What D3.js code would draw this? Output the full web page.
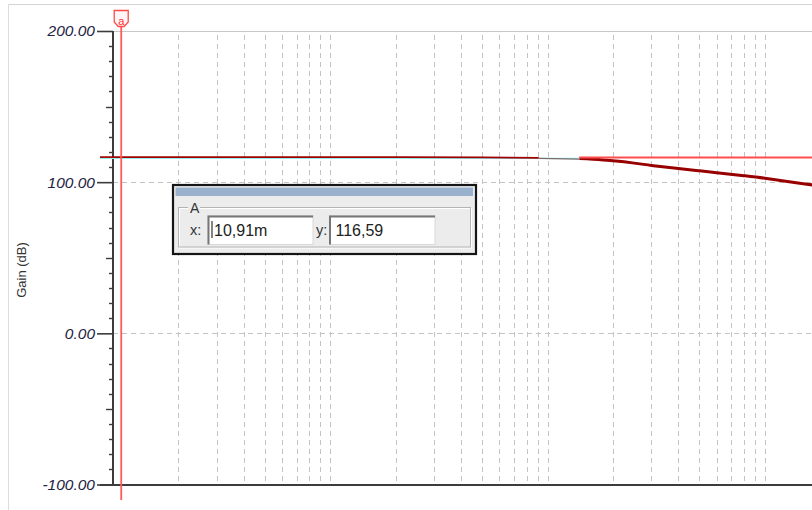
<!DOCTYPE html>
<html>
<head>
<meta charset="utf-8">
<script src="https://cdn.jsdelivr.net/npm/d3@7/dist/d3.min.js"></script>
<style>
  html, body { margin: 0; padding: 0; background: #ffffff; overflow: hidden; }
  svg { display: block; }
  text { font-family: "Liberation Sans", Arial, sans-serif; }
</style>
</head>
<body>
<svg id="chart" width="812" height="510"></svg>
<script>
// Frequency response (gain) of the measured system
const freqHz = [0.01, 0.02, 0.05, 0.1, 0.2, 0.5, 0.91, 1.4, 1.8, 2, 2.5, 3, 4, 5, 6, 8, 10, 12, 15, 20, 30, 50, 100];
const gainDb = [116.59, 116.59, 116.59, 116.58, 116.55, 116.4, 116.1, 115.6, 114.7, 114.1, 112.6, 111.1, 109.0, 107.5, 106.3, 104.3, 102.6, 101.0, 99.0, 96.6, 93.2, 88.8, 82.8];

// Trace colouring breaks (Hz)
const traceBreaks = [0.91, 1.4];

// Y axis ticks
const yMajorTicks = [-100, 0, 100, 200];
const yGridLines = [0, 100];

// Cursor "a" readout
const cursorLabel = "a";
const cursorGroup = "A";
const cursorX = 0.01091;
const cursorY = 116.59;
const cursorXText = "10,91m";
const cursorYText = "116,59";

const svg = d3.select("#chart");
const W = 812, H = 510;

const plotLeft = 113, plotTop = 31, plotBottom = 484.5, decadePx = 217.3;

const x = d3.scaleLog().domain([0.01, 100]).range([plotLeft, plotLeft + 4 * decadePx]);
const y = d3.scaleLinear().domain([-100, 200]).range([plotBottom, plotTop]);

// Panel frame
svg.append("line").attr("x1", 8).attr("x2", W).attr("y1", 4.5).attr("y2", 4.5)
  .attr("stroke", "#d4d4d4").attr("stroke-width", 1);
svg.append("line").attr("x1", 8.5).attr("x2", 8.5).attr("y1", 4).attr("y2", H)
  .attr("stroke", "#dcdcdc").attr("stroke-width", 1);

const plot = svg.append("g");

// Vertical log gridlines (2..10 per decade)
const gridFreqs = x.ticks().filter(f => f > 0.0100001);
plot.append("g").selectAll("line").data(gridFreqs).join("line")
  .attr("x1", d => Math.round(x(d)) + 0.5).attr("x2", d => Math.round(x(d)) + 0.5)
  .attr("y1", plotTop + 4).attr("y2", plotBottom)
  .attr("stroke", "#c4c4c4").attr("stroke-width", 1).attr("stroke-dasharray", "5,4");

// Horizontal gridlines
plot.append("g").selectAll("line").data(yGridLines).join("line")
  .attr("x1", plotLeft).attr("x2", W)
  .attr("y1", d => Math.round(y(d)) + 0.5).attr("y2", d => Math.round(y(d)) + 0.5)
  .attr("stroke", "#c4c4c4").attr("stroke-width", 1).attr("stroke-dasharray", "5,4");

// Top border of plot
plot.append("line").attr("x1", plotLeft).attr("x2", W)
  .attr("y1", Math.round(y(200)) + 0.5).attr("y2", Math.round(y(200)) + 0.5)
  .attr("stroke", "#c8c8c8").attr("stroke-width", 1.2);

// Y axis: major ticks with labels (plain hyphen for negatives)
const fmt = d3.format(".2f");
const yAxis = d3.axisLeft(y).tickValues(yMajorTicks)
  .tickFormat(d => fmt(d).replace("\u2212", "-"))
  .tickSize(16).tickPadding(2);
const gy = svg.append("g").attr("transform", `translate(${plotLeft},0)`).call(yAxis);
gy.select(".domain").remove();
gy.selectAll(".tick line").attr("stroke", "#3c3c3c").attr("stroke-width", 1.6);
gy.selectAll(".tick text")
  .attr("font-size", 15.5).attr("font-style", "italic").attr("fill", "#1e2242");

// Y axis: minor ticks every 10 dB, mid ticks every 50 dB
const minorTicks = d3.range(-90, 200, 10).filter(v => v % 100 !== 0);
const gMinor = svg.append("g").attr("transform", `translate(${plotLeft},0)`);
gMinor.selectAll("line").data(minorTicks).join("line")
  .attr("x1", d => (d % 50 === 0) ? -7 : -4).attr("x2", 0)
  .attr("y1", d => Math.round(y(d)) + 0.5).attr("y2", d => Math.round(y(d)) + 0.5)
  .attr("stroke", "#3c3c3c").attr("stroke-width", 1.4);

// Axis lines
svg.append("line").attr("x1", plotLeft).attr("x2", plotLeft).attr("y1", plotTop).attr("y2", plotBottom + 1)
  .attr("stroke", "#3c3c3c").attr("stroke-width", 2);
svg.append("line").attr("x1", 100).attr("x2", W).attr("y1", plotBottom + 0.5).attr("y2", plotBottom + 0.5)
  .attr("stroke", "#3c3c3c").attr("stroke-width", 2);

// Y axis title
svg.append("text")
  .attr("transform", `translate(26,270) rotate(-90)`)
  .attr("text-anchor", "middle").attr("font-size", 13).attr("fill", "#333")
  .text("Gain (dB)");

// Gain trace, drawn in three colour segments
const pts = freqHz.map((f, i) => ({ f, g: gainDb[i] }));
const line = d3.line().curve(d3.curveMonotoneX).x(d => x(d.f)).y(d => y(d.g));
const seg1 = pts.filter(d => d.f <= traceBreaks[0]);
const seg2 = pts.filter(d => d.f >= traceBreaks[0] && d.f <= traceBreaks[1]);
const seg3 = pts.filter(d => d.f >= traceBreaks[1]);

const traces = svg.append("g");
traces.append("path").attr("d", line(seg3)).attr("fill", "none")
  .attr("stroke", "#980000").attr("stroke-width", 3).attr("stroke-linejoin", "round");

// Cursor horizontal line (left part over the trace, right part in red)
const yc = y(cursorY);
traces.append("line").attr("x1", 100).attr("x2", x(traceBreaks[1])).attr("y1", yc + 1.2).attr("y2", yc + 1.2)
  .attr("stroke", "#8ff0f2").attr("stroke-width", 1.3);
traces.append("path").attr("d", line(seg1)).attr("fill", "none")
  .attr("stroke", "#a00000").attr("stroke-width", 1.7);
traces.append("line").attr("x1", 100).attr("x2", plotLeft).attr("y1", yc).attr("y2", yc)
  .attr("stroke", "#a00000").attr("stroke-width", 1.7);
traces.append("path").attr("d", line(seg2)).attr("fill", "none")
  .attr("stroke", "#7a6a6a").attr("stroke-width", 1.2).attr("transform", "translate(0,0.6)");
traces.append("line").attr("x1", x(traceBreaks[1])).attr("x2", W).attr("y1", yc + 0.3).attr("y2", yc + 0.3)
  .attr("stroke", "#ff4d4d").attr("stroke-width", 2);

// Cursor vertical line and tag
const xc = x(cursorX);
svg.append("line").attr("x1", xc).attr("x2", xc).attr("y1", 26).attr("y2", 500)
  .attr("stroke", "#ff5a5a").attr("stroke-width", 1.8);
svg.append("path")
  .attr("d", `M${xc - 7},10.5 H${xc + 7} V22 L${xc + 3},26.5 H${xc - 3} L${xc - 7},22 Z`)
  .attr("fill", "#fff6f6").attr("stroke", "#ff4a4a").attr("stroke-width", 1.3);
svg.append("text").attr("x", xc).attr("y", 24.5).attr("text-anchor", "middle")
  .attr("font-size", 11).attr("fill", "#ff3030").text(cursorLabel);

// Cursor readout box
const box = svg.append("g");
box.append("rect").attr("x", 173).attr("y", 185).attr("width", 303).attr("height", 69)
  .attr("fill", "#ececec").attr("stroke", "#151515").attr("stroke-width", 2.2);
box.append("rect").attr("x", 175.5).attr("y", 187.5).attr("width", 297.5).attr("height", 8.5)
  .attr("fill", "#9ab1cd");
// group frame
box.append("rect").attr("x", 178.5).attr("y", 207.5).attr("width", 292).attr("height", 39.5)
  .attr("fill", "none").attr("stroke", "#ffffff").attr("stroke-width", 1).attr("transform", "translate(1,1)");
box.append("rect").attr("x", 178.5).attr("y", 207.5).attr("width", 292).attr("height", 39.5)
  .attr("fill", "none").attr("stroke", "#b4b4b4").attr("stroke-width", 1);
box.append("rect").attr("x", 188).attr("y", 202).attr("width", 12).attr("height", 10).attr("fill", "#ececec");
box.append("text").attr("x", 190).attr("y", 213).attr("font-size", 14).attr("fill", "#333").text(cursorGroup);

// value fields
const fields = [
  { label: "x:", lx: 190, fx: 208, fw: 105, value: cursorXText },
  { label: "y:", lx: 316, fx: 329.5, fw: 105.5, value: cursorYText }
];
fields.forEach(fd => {
  box.append("text").attr("x", fd.lx).attr("y", 235).attr("font-size", 14.5).attr("fill", "#333").text(fd.label);
  box.append("rect").attr("x", fd.fx).attr("y", 215.5).attr("width", fd.fw).attr("height", 29)
    .attr("fill", "#ffffff").attr("stroke", "#d8d8d8").attr("stroke-width", 1);
  box.append("path").attr("d", `M${fd.fx + 0.5},${215.5 + 29} V${216.5} H${fd.fx + fd.fw}`)
    .attr("fill", "none").attr("stroke", "#767676").attr("stroke-width", 2);
  box.append("text").attr("x", fd.fx + 6).attr("y", 235.5).attr("font-size", 16).attr("fill", "#222")
    .text(fd.value);
});
// text caret in the first field
box.append("line").attr("x1", 212).attr("x2", 212).attr("y1", 221).attr("y2", 238)
  .attr("stroke", "#333").attr("stroke-width", 1.2);
</script>
</body>
</html>
